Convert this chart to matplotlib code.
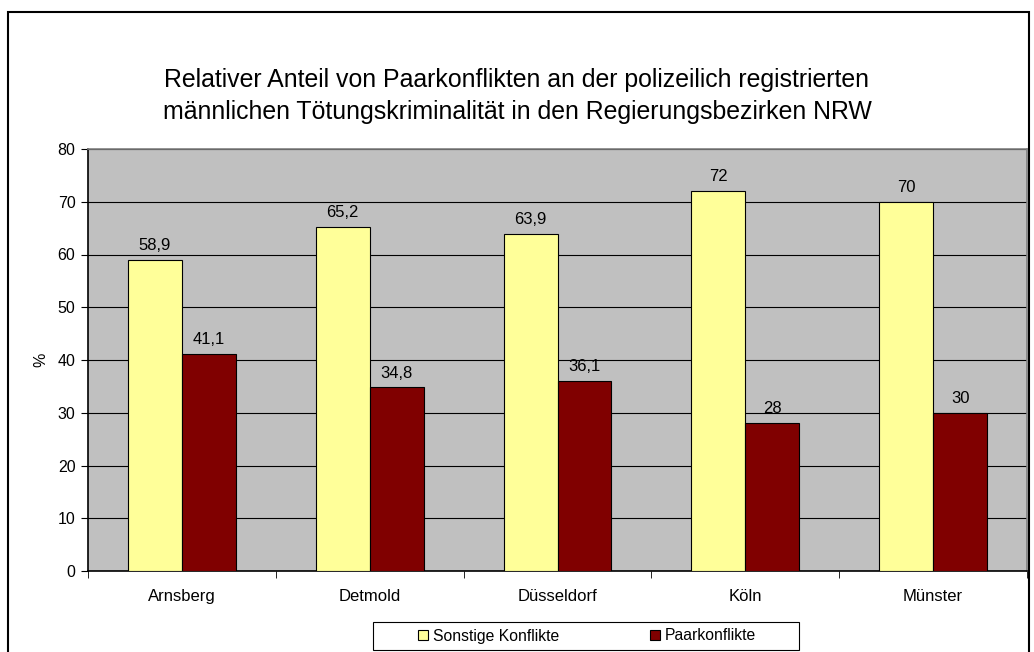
import matplotlib
matplotlib.use('Agg')
from matplotlib import pyplot as plt
from matplotlib.patches import Rectangle
import numpy as np

plt.rcParams['font.family'] = ['Liberation Sans', 'DejaVu Sans']

regions = ['Arnsberg', 'Detmold', 'Düsseldorf', 'Köln', 'Münster']
sonstige = [58.9, 65.2, 63.9, 72, 70]
paar = [41.1, 34.8, 36.1, 28, 30]
sonstige_lbl = ['58,9', '65,2', '63,9', '72', '70']
paar_lbl = ['41,1', '34,8', '36,1', '28', '30']

W, H = 1034, 652
fig = plt.figure(figsize=(W / 100, H / 100), dpi=100)

# outer frame of the chart
fig.patches.append(Rectangle((8 / W, -0.05), (1029 - 8) / W, 1.05 - 12 / H,
                             transform=fig.transFigure, fill=False,
                             edgecolor='black', linewidth=1.5))

ax = fig.add_axes([88 / W, 1 - 571 / H, (1027 - 88) / W, (571 - 149) / H])
ax.set_facecolor('#C0C0C0')

x = np.arange(len(regions))
bw = 0.2875
b1 = ax.bar(x - bw / 2, sonstige, bw, color='#FFFF99', edgecolor='black',
            linewidth=0.8, label='Sonstige Konflikte', zorder=3)
b2 = ax.bar(x + bw / 2, paar, bw, color='#800000', edgecolor='black',
            linewidth=0.8, label='Paarkonflikte', zorder=3)

for rect, t in zip(b1, sonstige_lbl):
    ax.text(rect.get_x() + rect.get_width() / 2, rect.get_height() + 1.3, t,
            ha='center', va='bottom', fontsize=12)
for rect, t in zip(b2, paar_lbl):
    ax.text(rect.get_x() + rect.get_width() / 2, rect.get_height() + 1.3, t,
            ha='center', va='bottom', fontsize=12)

ax.set_xlim(-0.5, len(regions) - 0.5)
ax.set_ylim(0, 80)
ax.set_yticks(range(0, 81, 10))
ax.yaxis.grid(True, color='black', linewidth=0.8, zorder=1)
ax.set_axisbelow(True)

ax.set_xticks(x)
ax.set_xticklabels(regions, fontsize=12)
ax.tick_params(axis='x', length=0, pad=13)
ax.set_xticks(np.arange(-0.5, len(regions), 1), minor=True)
ax.tick_params(axis='x', which='minor', length=5, direction='out', color='black')
ax.tick_params(axis='y', labelsize=11.5, length=5, direction='out', pad=4)

ax.spines['left'].set_color('black')
ax.spines['bottom'].set_color('black')
ax.spines['top'].set_color('#808080')
ax.spines['right'].set_color('#808080')
for s in ax.spines.values():
    s.set_linewidth(1.2)

ax.set_ylabel('%', fontsize=11.5, labelpad=7)

fig.text(0.5, 1 - 96 / H,
         'Relativer Anteil von Paarkonflikten an der polizeilich registrierten\n'
         'männlichen Tötungskriminalität in den Regierungsbezirken NRW',
         ha='center', va='center', fontsize=17.9, linespacing=1.38)

# legend box
fig.patches.append(Rectangle((373 / W, 1 - 650 / H), (799 - 373) / W, 28 / H,
                             transform=fig.transFigure, fill=True,
                             facecolor='white', edgecolor='black',
                             linewidth=0.8))
leg = fig.legend(handles=[b1, b2], loc='center', ncol=2,
                 bbox_to_anchor=(587 / W, 1 - 636 / H), fontsize=11.3,
                 frameon=False,
                 handlelength=0.65, handleheight=0.65, handletextpad=0.3,
                 columnspacing=5.8, borderpad=0.0)

fig.savefig('out.png', dpi=100)
